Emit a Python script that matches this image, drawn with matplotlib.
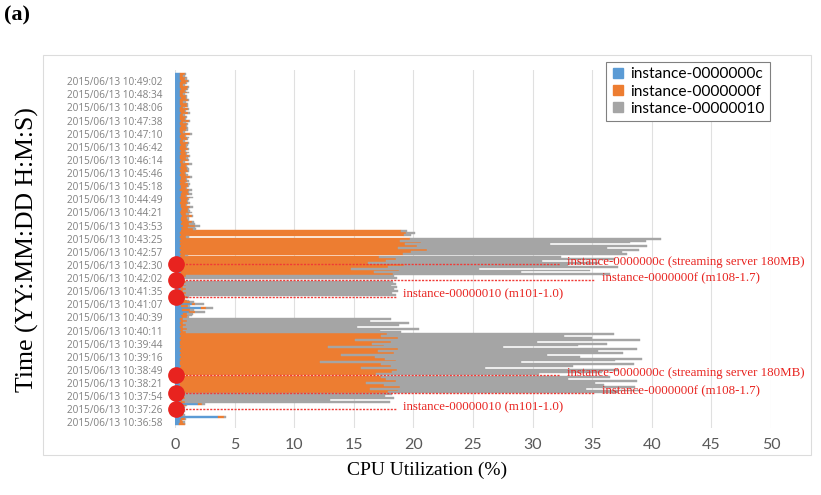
import numpy as np
import matplotlib
matplotlib.use("Agg")
import matplotlib.pyplot as plt
from matplotlib.lines import Line2D
from matplotlib.patches import Rectangle

# time stamps shown on the category axis (bottom -> top), one every 7 samples
time_labels = ["2015/06/13 " + t for t in [
    "10:36:58", "10:37:26", "10:37:54", "10:38:21", "10:38:49", "10:39:16",
    "10:39:44", "10:40:11", "10:40:39", "10:41:07", "10:41:35", "10:42:02",
    "10:42:30", "10:42:57", "10:43:25", "10:43:53", "10:44:21", "10:44:49",
    "10:45:18", "10:45:46", "10:46:14", "10:46:42", "10:47:10", "10:47:38",
    "10:48:06", "10:48:34", "10:49:02"]]
label_every = 7
first_label = 1

series_names = ["instance-0000000c", "instance-0000000f", "instance-00000010"]

# CPU utilization (%) per sample, bottom -> top
cpu_c = [
    0.3, 0.4, 0.4, 0.5, 3.6, 0.5, 0.4, 0.5, 0.4, 0.5,
    0.6, 1.9, 0.5, 0.4, 0.5, 0.4, 0.5, 0.4, 0.5, 0.4,
    0.5, 0.4, 0.4, 0.5, 0.4, 0.5, 0.3, 0.5, 0.4, 0.5,
    0.4, 0.5, 0.4, 0.4, 0.5, 0.4, 0.5, 0.4, 0.5, 0.4,
    0.5, 0.4, 0.5, 0.4, 0.4, 0.5, 0.4, 0.5, 0.4, 0.5,
    0.4, 0.5, 0.4, 0.5, 0.4, 0.5, 0.4, 0.6, 0.5, 0.7,
    1.2, 0.6, 2.2, 0.5, 1.4, 0.5, 0.6, 0.4, 0.5, 0.4,
    0.5, 0.4, 0.5, 0.4, 0.5, 0.4, 0.5, 0.3, 0.4, 0.5,
    0.4, 0.5, 0.4, 0.5, 0.4, 0.5, 0.4, 0.5, 0.4, 0.5,
    0.4, 0.5, 0.4, 0.5, 0.4, 0.5, 0.4, 0.5, 0.4, 0.5,
    0.4, 0.5, 0.4, 0.5, 0.6, 0.5, 0.7, 0.5, 0.6, 0.5,
    0.5, 0.6, 0.5, 0.4, 0.5, 0.6, 0.5, 0.5, 0.4, 0.5,
    0.5, 0.4, 0.5, 0.5, 0.6, 0.4, 0.5, 0.5, 0.4, 0.5,
    0.4, 0.5, 0.5, 0.4, 0.5, 0.4, 0.5, 0.4, 0.5, 0.5,
    0.4, 0.5, 0.4, 0.4, 0.5, 0.4, 0.5, 0.4, 0.4, 0.5,
    0.4, 0.4, 0.5, 0.4, 0.4, 0.5, 0.4, 0.4, 0.4, 0.5,
    0.4, 0.4, 0.5, 0.4, 0.4, 0.4, 0.5, 0.4, 0.4, 0.4,
    0.5, 0.4, 0.4, 0.4, 0.5, 0.4, 0.4, 0.4, 0.4, 0.5,
    0.4, 0.4, 0.4, 0.5, 0.4, 0.4, 0.4, 0.4]

cpu_f = [
    0.5, 0.3, 0.2, 0.3, 0.5, 0.2, 0.3, 0.2, 0.3, 0.2,
    0.3, 0.4, 0.3, 0.2, 0.3, 0.2, 0.3, 17.5, 18.2, 16.0,
    18.4, 17.1, 15.6, 18.0, 17.3, 16.8, 0.3, 16.4, 17.8, 18.1,
    15.2, 17.6, 16.9, 11.8, 18.0, 17.2, 16.3, 13.5, 17.9, 16.6,
    18.2, 12.4, 17.0, 16.1, 17.7, 14.6, 18.3, 16.8, 17.4, 0.4,
    0.3, 0.5, 0.3, 0.4, 0.3, 0.5, 0.3, 0.4, 0.6, 0.3,
    0.5, 0.7, 0.4, 0.6, 0.3, 0.8, 0.4, 0.3, 0.5, 0.3,
    0.4, 0.3, 0.4, 0.3, 0.4, 0.3, 0.4, 0.2, 0.3, 0.4,
    17.9, 16.2, 18.4, 14.3, 17.5, 18.7, 15.8, 17.2, 18.1, 16.6,
    0.4, 18.6, 19.4, 20.6, 18.3, 19.8, 18.9, 20.1, 18.5, 19.2,
    0.5, 18.7, 19.0, 18.5, 0.9, 0.6, 1.0, 0.7, 0.8, 0.6,
    0.5, 0.8, 0.4, 0.9, 0.6, 0.5, 0.8, 0.4, 0.7, 0.5,
    0.6, 0.9, 0.4, 0.7, 0.5, 0.8, 0.4, 0.6, 0.7, 0.3,
    0.6, 0.4, 0.8, 0.5, 0.3, 0.7, 0.5, 0.6, 0.4, 0.7,
    0.3, 0.6, 0.5, 0.8, 0.4, 0.6, 0.3, 0.7, 0.5, 0.4,
    0.7, 0.3, 0.5, 0.6, 0.4, 0.8, 0.3, 0.5, 0.6, 0.4,
    0.6, 0.3, 0.7, 0.4, 0.5, 0.3, 0.6, 0.4, 0.7, 0.3,
    0.5, 0.6, 0.3, 0.7, 0.4, 0.5, 0.3, 0.6, 0.4, 0.5,
    0.7, 0.3, 0.5, 0.6, 0.4, 0.5, 0.3, 0.4]

cpu_10 = [
    0.0, 0.1, 0.0, 0.1, 0.2, 0.1, 0.0, 0.1, 0.0, 0.1,
    0.1, 0.2, 17.2, 12.4, 17.6, 17.0, 17.4, 19.3, 20.3, 18.1,
    19.7, 18.5, 19.2, 20.3, 15.3, 19.2, 0.1, 13.6, 17.6, 18.6,
    10.4, 15.3, 21.2, 16.8, 18.4, 21.6, 17.2, 17.3, 19.2, 18.5,
    20.1, 14.7, 16.3, 19.7, 12.3, 23.9, 16.3, 15.3, 19.0, 18.1,
    16.5, 19.5, 14.6, 17.9, 18.9, 15.4, 17.4, 0.2, 0.3, 0.5,
    0.8, 0.3, 0.6, 0.2, 0.7, 0.3, 0.2, 0.1, 0.2, 17.8,
    17.3, 18.0, 17.5, 17.9, 17.2, 17.8, 17.4, 0.2, 17.9, 17.5,
    18.2, 12.3, 16.0, 10.7, 19.3, 13.8, 19.4, 13.1, 18.4, 15.3,
    0.3, 18.8, 17.7, 17.8, 17.5, 19.3, 12.2, 17.6, 20.6, 21.1,
    0.3, 0.6, 0.7, 0.5, 0.3, 0.6, 0.4, 0.5, 0.2, 0.1,
    0.2, 0.1, 0.3, 0.1, 0.2, 0.1, 0.2, 0.1, 0.2, 0.1,
    0.1, 0.2, 0.1, 0.2, 0.1, 0.2, 0.1, 0.1, 0.2, 0.1,
    0.2, 0.1, 0.1, 0.2, 0.1, 0.1, 0.2, 0.1, 0.1, 0.2,
    0.1, 0.1, 0.2, 0.1, 0.1, 0.2, 0.1, 0.1, 0.1, 0.2,
    0.1, 0.1, 0.1, 0.2, 0.1, 0.1, 0.1, 0.2, 0.1, 0.1,
    0.1, 0.2, 0.1, 0.1, 0.1, 0.1, 0.2, 0.1, 0.1, 0.1,
    0.1, 0.1, 0.2, 0.1, 0.1, 0.1, 0.1, 0.2, 0.1, 0.1,
    0.1, 0.1, 0.1, 0.1, 0.2, 0.1, 0.1, 0.1]

# annotations: (sample position, line end %, text)
notes = [
    (85.7, 32.3, "instance-0000000c (streaming server 180MB)"),
    (77.0, 35.2, "instance-0000000f (m108-1.7)"),
    (68.1, 18.5, "instance-00000010 (m101-1.0)"),
    (26.3, 32.3, "instance-0000000c (streaming server 180MB)"),
    (16.8, 35.2, "instance-0000000f (m108-1.7)"),
    (8.0, 18.5, "instance-00000010 (m101-1.0)"),
]

colors = ["#5B9BD5", "#ED7D31", "#A5A5A5"]
red = "#E8231F"

c = np.array(cpu_c)
f = np.array(cpu_f)
g = np.array(cpu_10)
idx = np.arange(len(c))

fig = plt.figure(figsize=(8.21, 4.95), dpi=100, facecolor="white")

# light chart-area frame
fig.patches.append(Rectangle((43 / 821, 1 - 455 / 495), 768 / 821, 400 / 495,
                             transform=fig.transFigure, fill=False,
                             edgecolor="#DCDCDC", linewidth=0.8))

ax = fig.add_axes([175 / 821, 1 - 428 / 495, 596 / 821, 358 / 495])

kw = dict(height=1.0, linewidth=0.3)
ax.barh(idx, c, color=colors[0], edgecolor=colors[0], **kw)
ax.barh(idx, f, left=c, color=colors[1], edgecolor=colors[1], **kw)
ax.barh(idx, g, left=c + f, color=colors[2], edgecolor=colors[2], **kw)

ax.set_xlim(0, 50)
ax.set_ylim(-2.0, 189.0)
ax.set_xticks(np.arange(0, 51, 5))
ax.xaxis.grid(True, color="#E0E0E0", linewidth=0.8)
ax.set_axisbelow(True)
for s in ax.spines.values():
    s.set_visible(False)

ax.set_yticks(first_label + label_every * np.arange(len(time_labels)))
ax.set_yticklabels(time_labels, fontsize=7.2, color="#808080", family="Open Sans")
ax.tick_params(axis="y", length=0, pad=9)
ax.tick_params(axis="x", length=0, pad=7, labelsize=11.5, labelcolor="#595959")
for t in ax.get_xticklabels():
    t.set_family("Lato")

# red markers, dashed leader lines and notes
for ypos, xend, txt in notes:
    ax.plot([0, xend], [ypos, ypos], color="#F03A36", linestyle=(0, (1.5, 1)),
            linewidth=1.0, zorder=4)
    ax.plot(0.1, ypos, "o", color=red, markersize=11, zorder=5, clip_on=False)
    ax.text(xend + 0.6, ypos + 1.0, txt, color=red, fontsize=9.3,
            family="Liberation Serif", va="center", ha="left", zorder=5,
            clip_on=False)

handles = [Line2D([], [], marker="s", linestyle="none", markersize=6.5,
                  markerfacecolor=col, markeredgecolor=col) for col in colors]
leg = fig.legend(handles, series_names, loc="upper left",
                 bbox_to_anchor=(606 / 821, 1 - 62 / 495), borderaxespad=0,
                 prop={"family": "Lato", "size": 11.2}, handlelength=0.8,
                 handletextpad=0.4, labelspacing=0.2, borderpad=0.35,
                 fancybox=False, framealpha=1)
leg.get_frame().set_edgecolor("#808080")
leg.get_frame().set_linewidth(0.8)

fig.text(427 / 821, 1 - 470 / 495, "CPU Utilization (%)", ha="center",
         va="center", fontsize=14, family="Liberation Serif")
fig.text(27 / 821, 1 - 250 / 495, "Time (YY:MM:DD H:M:S)", ha="center",
         va="center", rotation=90, fontsize=18.5, family="Liberation Serif")
fig.text(4 / 821, 1 - 15 / 495, "(a)", ha="left", va="center", fontsize=16,
         fontweight="bold", family="Liberation Serif")

fig.savefig("out.png", dpi=100, facecolor="white")
